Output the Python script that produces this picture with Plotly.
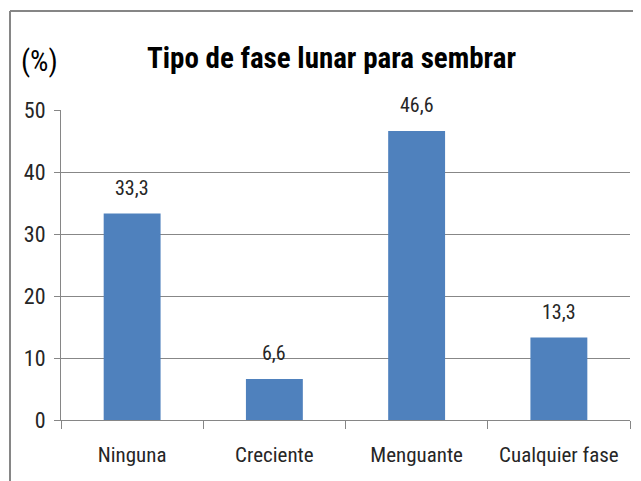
import plotly.graph_objects as go

categories = ["Ninguna", "Creciente", "Menguante", "Cualquier fase"]
values = [33.3, 6.6, 46.6, 13.3]
value_labels = ["33,3", "6,6", "46,6", "13,3"]
y_ticks = [0, 10, 20, 30, 40, 50]

FONT = "Liberation Sans Narrow, Roboto Condensed, Arial Narrow, sans-serif"

# page has an 8px body margin: figure starts at (8, 8) in the window
OFF = 8
W, H = 641 - OFF, 481 - OFF
ml, mr, mt, mb = 61 - OFF, 11, 110 - OFF, 61
pw, ph = W - ml - mr, H - mt - mb


def px(x):  # window x -> paper
    return (x - OFF - ml) / pw


def py(y):  # window y -> paper
    return (H - mb - (y - OFF)) / ph


fig = go.Figure()
fig.add_trace(go.Bar(
    x=categories, y=values,
    marker=dict(color="#4F81BD", line=dict(width=0)),
    width=0.4,
    hoverinfo="x+y",
))

annotations = [
    dict(x=c, y=v, text=t, xref="x", yref="y", showarrow=False,
         yshift=26, xanchor="center", yanchor="middle",
         font=dict(family=FONT, size=20, color="#262626"))
    for c, v, t in zip(categories, values, value_labels)
]
annotations += [
    dict(text="<b>Tipo de fase lunar para sembrar</b>", xref="paper", yref="paper",
         x=px(331), y=py(58), showarrow=False, xanchor="center", yanchor="middle",
         font=dict(family=FONT, size=29, color="black")),
    dict(text="(%)", xref="paper", yref="paper",
         x=px(19), y=py(61), showarrow=False, xanchor="left", yanchor="middle",
         font=dict(family=FONT, size=29, color="black")),
]

fig.update_layout(
    width=W, height=H,
    margin=dict(l=ml, r=mr, t=mt, b=mb),
    paper_bgcolor="white", plot_bgcolor="white",
    showlegend=False,
    separators=",.",
    font=dict(family=FONT, size=20, color="#262626"),
    xaxis=dict(
        type="category", tickson="boundaries", ticks="outside", ticklen=8,
        tickcolor="#868686", showline=True, linecolor="#868686", linewidth=1,
        tickfont=dict(family=FONT, size=21, color="#262626"),
        ticklabelstandoff=16,
        showgrid=False,
    ),
    yaxis=dict(
        range=[0, 50], tickvals=y_ticks, ticks="outside", ticklen=6,
        tickcolor="#868686", showline=True, linecolor="#868686", linewidth=1,
        showgrid=True, gridcolor="#878787", gridwidth=1, zeroline=False,
        tickfont=dict(family=FONT, size=22, color="#262626"),
        ticklabelstandoff=4,
    ),
    shapes=[
        dict(type="line", xref="paper", yref="paper",
             x0=px(10), x1=px(645), y0=py(11), y1=py(11),
             line=dict(color="#868686", width=2)),
        dict(type="line", xref="paper", yref="paper",
             x0=px(10), x1=px(10), y0=py(11), y1=py(490),
             line=dict(color="#868686", width=2)),
    ],
    annotations=annotations,
)

fig.write_html("out.html")
